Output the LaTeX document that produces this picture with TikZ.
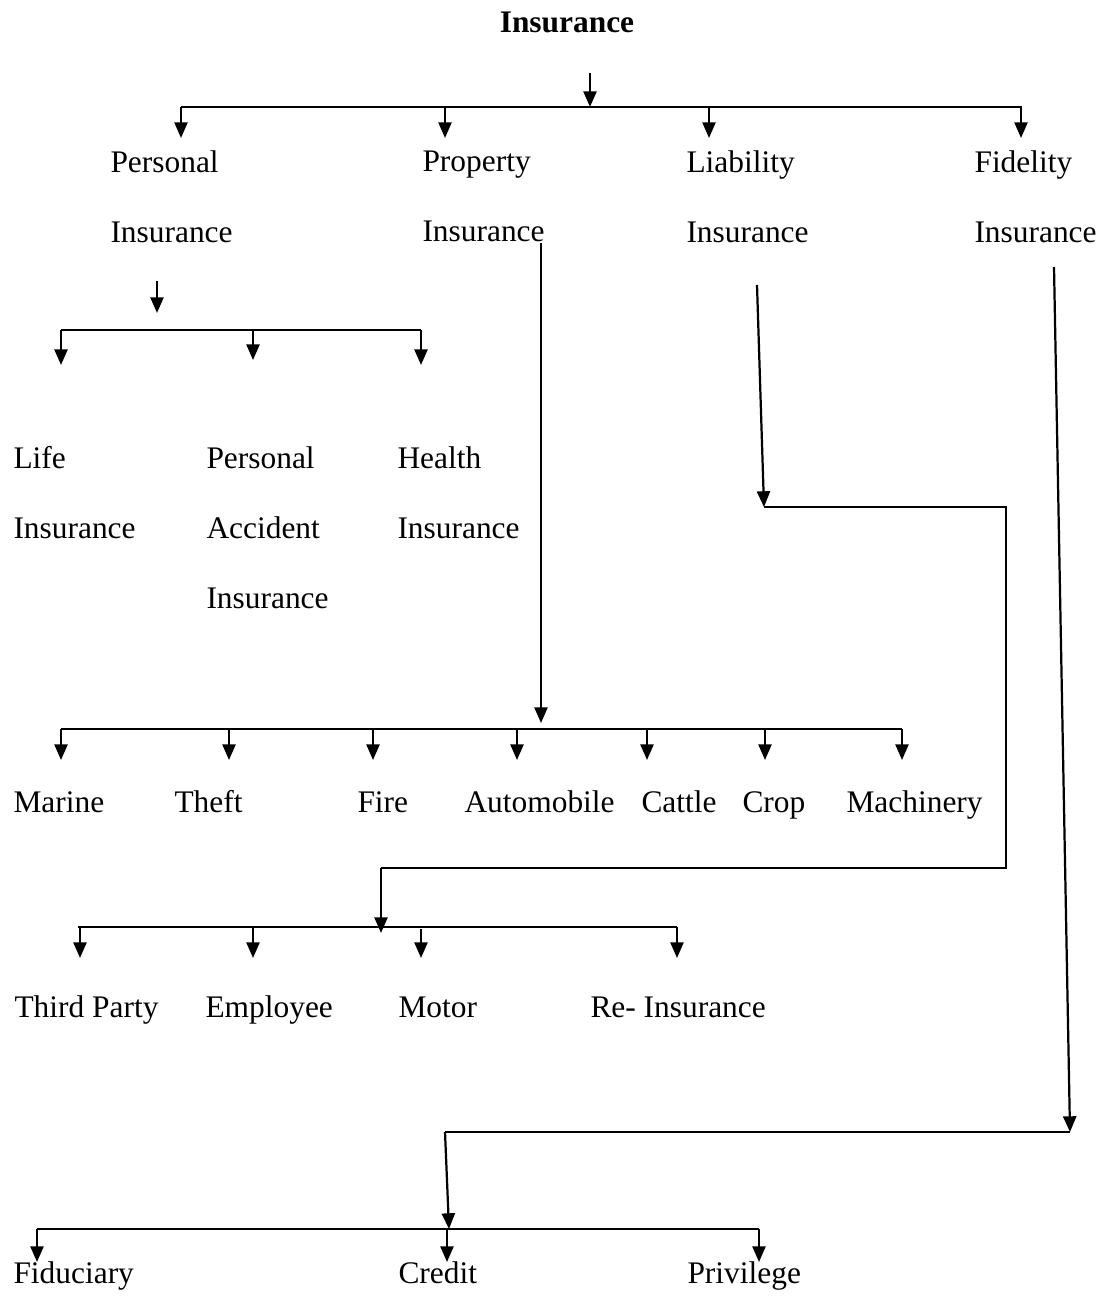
\documentclass[tikz,border=0pt]{standalone}
\usepackage{fontspec}
\setmainfont{Liberation Serif}
\usetikzlibrary{arrows.meta, positioning, calc}
\tikzset{
    lbl/.style={anchor=north west, inner sep=0pt, align=left, font=\fontsize{12}{26.74}\selectfont},
    word/.style={anchor=base west, inner sep=0pt, font=\fontsize{12}{14}\selectfont},
    bar/.style={line width=0.85pt},
    arrow/.style={-{Triangle[length=6pt, width=5pt]}, line width=0.85pt},
    link/.style={line width=0.65pt},
}

\begin{document}
\begin{tikzpicture}[x=0.382pt, y=-0.382pt]
\useasboundingbox (0,0) rectangle (1107,1302);

% Title
\node[word, anchor=base, font=\fontsize{12}{14}\selectfont\bfseries] (insurance) at (567,33) {Insurance};

% First level
\node[lbl] (personal) at (110,150) {Personal\\Insurance};
\node[lbl] (property) at (422,150) {Property\\Insurance};
\node[lbl] (liability) at (686,150) {Liability\\Insurance};
\node[lbl] (fidelity) at (974,150) {Fidelity\\Insurance};

% Personal insurance kinds
\node[lbl] (life) at (13,446) {Life\\Insurance};
\node[lbl] (accident) at (206,446) {Personal\\Accident\\Insurance};
\node[lbl] (health) at (397,446) {Health\\Insurance};

% Property insurance kinds
\node[word] (marine) at (13,812) {Marine};
\node[word] (theft) at (174,812) {Theft};
\node[word] (fire) at (357,812) {Fire};
\node[word] (automobile) at (464,812) {Automobile};
\node[word] (cattle) at (641,812) {Cattle};
\node[word] (crop) at (742,812) {Crop};
\node[word] (machinery) at (846,812) {Machinery};

% Liability insurance kinds
\node[word] (thirdparty) at (14,1017) {Third Party};
\node[word] (employee) at (205,1017) {Employee};
\node[word] (motor) at (398,1017) {Motor};
\node[word] (reinsurance) at (590,1017) {Re- Insurance};

% Fidelity insurance kinds
\node[word] (fiduciary) at (13,1283) {Fiduciary};
\node[word] (credit) at (398,1283) {Credit};
\node[word] (privilege) at (687,1283) {Privilege};

% Top branch
\coordinate (top-in) at (590,73);
\coordinate (top-bar) at (590,107);
\draw[arrow] (top-in) -- (top-bar);
\draw[bar] (181,107) -- (1022,107);
\foreach \x in {181,445,709,1021}
    \draw[arrow] (\x,107) -- (\x,138);

% Personal branch
\coordinate (pers-in) at (157,281);
\draw[arrow] (pers-in) -- (157,313);
\draw[bar] (61,330) -- (421,330);
\foreach \x/\t in {61/365,253/360,421/365}
    \draw[arrow] (\x,330) -- (\x,\t);

% Property branch
\coordinate (prop-out) at (541,243);
\coordinate (prop-in) at (541,723);
\draw[link, arrow] (prop-out) -- (prop-in);
\draw[bar] (61,729) -- (902,729);
\foreach \x in {61,229,373,517,647,765,902}
    \draw[arrow] (\x,729) -- (\x,760);

% Liability branch
\coordinate (liab-out) at (757,285);
\coordinate (liab-turn) at (764,507);
\coordinate (liab-in) at (381,933);
\draw[link, arrow] (liab-out) -- (liab-turn);
\draw[link] (liab-turn) -- (1006,507) -- (1006,868) -- (381,868);
\draw[link, arrow] (381,868) -- (liab-in);
\draw[bar] (78,927) -- (677,927);
\foreach \x/\s in {80/927,253/927,421/929,677/927}
    \draw[arrow] (\x,\s) -- (\x,958);

% Fidelity branch
\coordinate (fid-out) at (1054,267);
\coordinate (fid-turn) at (1070,1132);
\coordinate (fid-in) at (449,1229);
\draw[link, arrow] (fid-out) -- (fid-turn);
\draw[link] (fid-turn) -- (445,1132);
\draw[link, arrow] (445,1132) -- (fid-in);
\draw[bar] (37,1229) -- (759,1229);
\foreach \x in {37,447,759}
    \draw[arrow] (\x,1229) -- (\x,1262);

\end{tikzpicture}
\end{document}
